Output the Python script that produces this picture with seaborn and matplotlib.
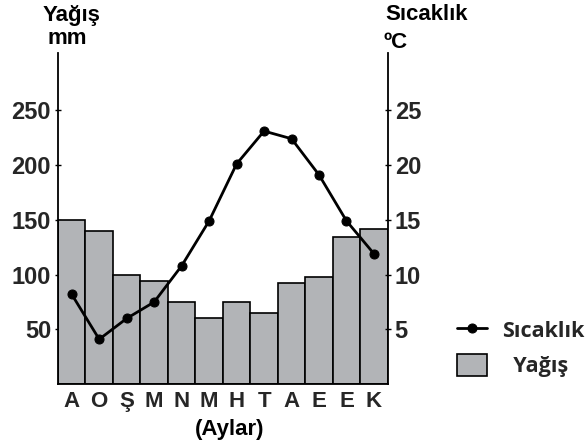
import numpy as np
import pandas as pd
import matplotlib
matplotlib.use("Agg")
import matplotlib.pyplot as plt
import seaborn as sns

months = ["Aralık", "Ocak", "Şubat", "Mart", "Nisan", "Mayıs",
          "Haziran", "Temmuz", "Ağustos", "Eylül", "Ekim", "Kasım"]
month_letters = ["A", "O", "Ş", "M", "N", "M", "H", "T", "A", "E", "E", "K"]
rain_mm = [150, 140, 100, 94, 75, 60, 75, 65, 92, 98, 134, 142]
temp_c = [8.2, 4.1, 6.0, 7.5, 10.8, 14.9, 20.1, 23.1, 22.4, 19.1, 14.9, 11.9]
rain_ticks = [50, 100, 150, 200, 250]
temp_ticks = [5, 10, 15, 20, 25]

sns.set_theme(style="white")
plt.rcParams["font.family"] = ["Liberation Sans", "DejaVu Sans"]

df = pd.DataFrame({"month": months, "rain": rain_mm, "temp": temp_c})

fig = plt.figure(figsize=(5.87, 4.47), dpi=100)
ax = fig.add_axes([0.0988, 0.1405, 0.5617, 0.7403])

sns.barplot(data=df, x="month", y="rain", ax=ax, color="#b2b4b7",
            saturation=1, width=1.0, edgecolor="black", linewidth=1.2)

ax2 = ax.twinx()
sns.lineplot(x=np.arange(len(months)), y=df["temp"], ax=ax2, color="black",
             linewidth=2.0, marker="o", markersize=6.5, markeredgecolor="black")

ax.set_xlim(-0.5, len(months) - 0.5)
ax2.set_xlim(-0.5, len(months) - 0.5)
ax.set_ylim(0, 302)
ax2.set_ylim(0, 30.2)

tick_font = dict(fontsize=17, fontweight="bold")
ax.set_yticks(rain_ticks)
ax.set_yticklabels([str(v) for v in rain_ticks], **tick_font)
ax2.set_yticks(temp_ticks)
ax2.set_yticklabels([str(v) for v in temp_ticks], **tick_font)
ax.set_xticks(range(len(months)))
ax.set_xticklabels(month_letters, fontsize=16, fontweight="bold")

ax.tick_params(axis="y", direction="inout", length=4, width=1, color="black", pad=3, left=True)
ax2.tick_params(axis="y", direction="inout", length=4, width=1, color="black", pad=3, right=True)
ax.tick_params(axis="x", length=0, pad=5)

ax.set_xlabel("")
ax.set_ylabel("")
ax2.set_ylabel("")

for s in ["top", "right"]:
    ax.spines[s].set_visible(False)
for s in ["top", "left", "bottom"]:
    ax2.spines[s].set_visible(False)
for sp in [ax.spines["left"], ax.spines["bottom"], ax2.spines["right"]]:
    sp.set_color("black")
    sp.set_linewidth(1.3)

bold = dict(fontsize=16, fontweight="bold", color="black")
fig.text(72 / 587, 1 - 16 / 447, "Yağış", ha="center", va="center", **bold)
fig.text(67 / 587, 1 - 39 / 447, "mm", ha="center", va="center", **bold)
fig.text(385 / 587, 1 - 15 / 447, "Sıcaklık", ha="left", va="center", **bold)
fig.text(383 / 587, 1 - 42 / 447, "ºC", ha="left", va="center", **bold)
fig.text(230 / 587, 1 - 430 / 447, "(Aylar)", ha="center", va="center", **bold)

line_handle = ax2.get_lines()[0]
bar_handle = ax.patches[0]
leg = fig.legend([line_handle, bar_handle], ["Sıcaklık", "  Yağış"],
                 loc="center left", bbox_to_anchor=(457 / 587, 1 - 348 / 447),
                 frameon=False, handlelength=1.4, handleheight=1.2,
                 labelspacing=0.55, handletextpad=0.7, borderpad=0.0,
                 borderaxespad=0.0,
                 prop={"family": ["Open Sans", "DejaVu Sans"], "weight": "bold", "size": 15.5})

fig.savefig("out.png", dpi=100)
